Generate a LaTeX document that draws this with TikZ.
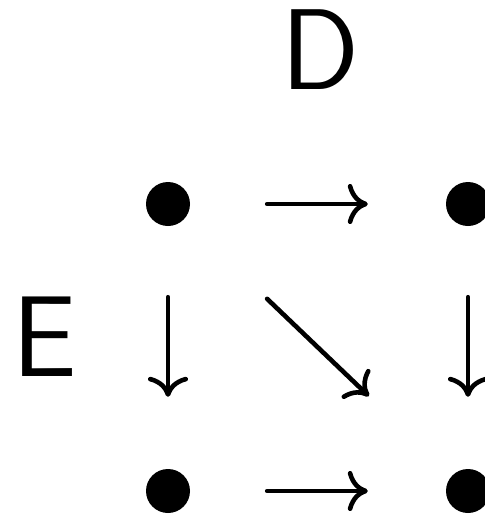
\documentclass[tikz,border=0pt]{standalone}
\usetikzlibrary{arrows.meta}
\begin{document}
\begin{tikzpicture}[x=1pt,y=-1pt,
  dot/.style={circle,fill=black,inner sep=0pt,minimum size=44pt},
  map/.style={line width=4.6pt,line cap=round,
    -{Computer Modern Rightarrow[length=20pt,width=40pt]}},
  lbl/.style={inner sep=0pt,font=\fontsize{115}{115}\selectfont\sffamily}]
\useasboundingbox (0,0) rectangle (485,515);
% the four objects of the square
\node[dot] (a) at (168,204) {};
\node[dot] (b) at (468,204) {};
\node[dot] (c) at (168,491) {};
\node[dot] (d) at (468,491) {};
% labels
\node[lbl] (D) at (320,49.5) {D};
\node[lbl] (E) at (44.5,336.5) {E};
% morphisms
\draw[map, shorten <=77pt, shorten >=78pt] (a) -- (b);
\draw[map, shorten <=77pt, shorten >=78pt] (c) -- (d);
\draw[map, shorten <=71pt, shorten >=72pt] (a) -- (c);
\draw[map, shorten <=71pt, shorten >=72pt] (b) -- (d);
\draw[map, shorten <=115pt, shorten >=115pt] (a) -- (d);
\end{tikzpicture}
\end{document}
